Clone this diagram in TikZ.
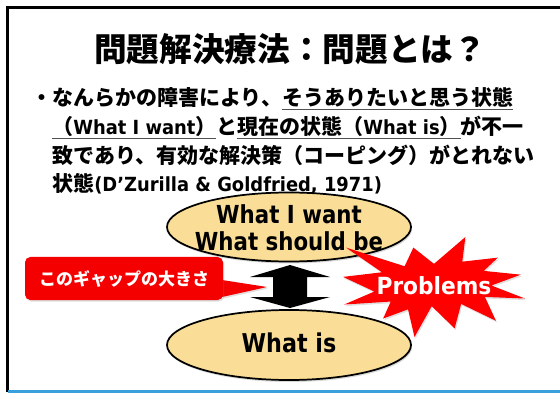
\documentclass[tikz,border=0pt]{standalone}
\usepackage{fontspec}
\setmainfont{DejaVu Sans}
\newfontfamily\jpf{Noto Sans CJK JP}
\newfontfamily\latn{DejaVu Sans}[FakeStretch=0.86]
\newfontfamily\latp{DejaVu Sans}[FakeStretch=0.92]
\newfontfamily\latb{DejaVu Sans}[FakeStretch=0.92]
\usetikzlibrary{shapes.geometric,shadows}
\definecolor{ellfill}{RGB}{250,222,152}
\definecolor{redbox}{RGB}{245,0,0}
\definecolor{bluebar}{RGB}{58,160,220}
\definecolor{ulgray}{RGB}{80,80,80}
\newcommand\myul[1]{\setbox0=\hbox{#1}\rlap{\textcolor{ulgray}{\rule[-3.2pt]{\wd0}{0.8pt}}}\box0}
\newcommand\la[1]{{\latb\bfseries\fontsize{14.6pt}{16pt}\selectfont #1}}
\tikzset{
  bodyline/.style={anchor=base west, inner sep=0pt, font=\jpf\bfseries\fontsize{15.75pt}{18pt}\selectfont},
  ellbox/.style={ellipse, draw=black, line width=1.3pt, fill=ellfill, inner sep=0pt,
    drop shadow={opacity=0.3, shadow xshift=0.8pt, shadow yshift=-1.5pt}},
  elltext/.style={font=\latn\bfseries\fontsize{18.6pt}{20.5pt}\selectfont, align=center, text=black},
  whitetext/.style={text=white, inner sep=0pt}
}
\begin{document}
\begin{tikzpicture}[x=0.75pt,y=-0.75pt]
\useasboundingbox (0,0) rectangle (560,395);
\fill[white] (0,0) rectangle (560,395);
% frame
\draw[line width=1.9pt, line cap=rect] (560,7.5) -- (7.5,7.5) -- (7.5,391);
\draw[bluebar, line width=2.4pt] (8,391.5) -- (560,391.5);
% title
\node[anchor=base, inner sep=0pt, font=\jpf\bfseries\fontsize{24.5pt}{28pt}\selectfont] (title) at (290,62) {問題解決療法：問題とは？};
% body text
\node[bodyline] (l1) at (31,106) {・なんらかの障害により、\myul{そうありたいと思う状態}};
\node[bodyline] (l2) at (52,135) {\myul{（\la{What I want}）}と\myul{現在の状態（\la{What is}）}が不一};
\node[bodyline] (l3) at (52,164) {致であり、有効な解決策（コーピング）がとれない};
\node[bodyline] (l4) at (52,192) {状態\la{(D’Zurilla \& Goldfried, 1971)}};
% ellipses
\node[ellbox, minimum width=183pt, minimum height=51.75pt] (want) at (289,227) {};
\node[elltext] (wanttxt) at (289,227.5) {What I want\\What should be};
\node[ellbox, minimum width=183pt, minimum height=52.5pt] (is) at (289,345) {};
\node[elltext, font=\latn\bfseries\fontsize{19.4pt}{21pt}\selectfont] (istxt) at (289,343) {What is};
% double arrow
\fill[black] (290,265) -- (330,277) -- (307,277) -- (307,297) -- (330,297) -- (290,308)
  -- (250,297) -- (273,297) -- (273,277) -- (250,277) -- cycle;
% callout
\fill[redbox, drop shadow={opacity=0.25, shadow xshift=0.8pt, shadow yshift=-1.2pt}]
  (222,280) -- (267,287) -- (222,297) -- cycle;
\node[fill=redbox, rounded corners=4pt, minimum width=148.5pt, minimum height=32.25pt, inner sep=0pt,
  drop shadow={opacity=0.25, shadow xshift=0.8pt, shadow yshift=-1.2pt}] (gap) at (124,278.5) {};
\node[whitetext, font=\jpf\bfseries\fontsize{12.75pt}{15pt}\selectfont] (gaptxt) at (gap.center) {このギャップの大きさ};
% star
\begin{scope}[shift={(343,237)}, x=0.631944pt, y=-0.347222pt]
\fill[red, drop shadow={opacity=0.25, shadow xshift=0.8pt, shadow yshift=-1.2pt}]
 (108,58) -- (145.22,0) -- (141.55,53.25) -- (183.80,44.57) -- (167.02,73.15) -- (210.97,81.37)
 -- (176.07,104.75) -- (216,132.90) -- (168.37,129.42) -- (181.45,180.95) -- (140.20,144.57)
 -- (132.47,197.37) -- (105.32,149.35) -- (84.85,216) -- (77.15,156.27) -- (47.62,176.17)
 -- (56.67,139.37) -- (1.35,145.87) -- (37.22,117.75) -- (0,86.15) -- (46.27,76.17)
 -- (3.70,22.95) -- (73.12,63.20) -- (83.52,22.95) -- cycle;
\end{scope}
\node[whitetext, font=\latp\bfseries\fontsize{17.7pt}{20pt}\selectfont] (prob) at (434,286) {Problems};
\end{tikzpicture}
\end{document}
